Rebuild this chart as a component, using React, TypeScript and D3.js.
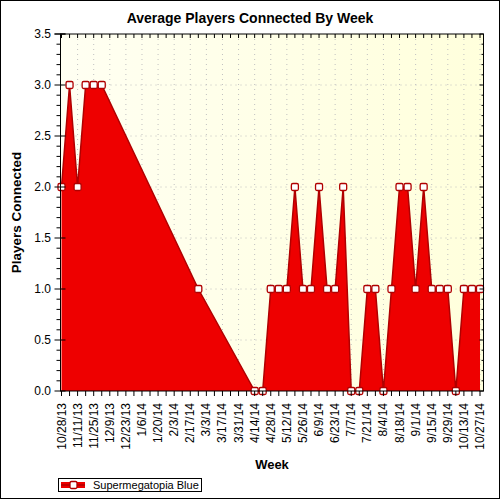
import React from "react";
import * as d3 from "d3";

const weeks = ["10/28/13","11/4/13","11/11/13","11/18/13","11/25/13","12/2/13","2/24/14","4/14/14","4/21/14","4/28/14","5/5/14","5/12/14","5/19/14","5/26/14","6/2/14","6/9/14","6/16/14","6/23/14","6/30/14","7/7/14","7/14/14","7/21/14","7/28/14","8/4/14","8/11/14","8/18/14","8/25/14","9/1/14","9/8/14","9/15/14","9/22/14","9/29/14","10/6/14","10/13/14","10/20/14","10/27/14"];
const players = [2,3,2,3,3,3,1,0,0,1,1,1,2,1,1,2,1,1,2,0,0,1,1,0,1,2,2,1,2,1,1,1,0,1,1,1];
const seriesName = "Supermegatopia Blue";
const yTicks = [0,0.5,1,1.5,2,2.5,3,3.5];

const parse = d3.timeParse("%m/%d/%y");
const fmt = (d: Date) => `${d.getMonth() + 1}/${d.getDate()}/${String(d.getFullYear()).slice(2)}`;

export default function App() {
  const font = "'Liberation Sans', Arial, sans-serif";
  const L = 60.5, R = 483.5, T = 34, B = 391;
  const start = parse("10/28/13")!;
  const end = parse("10/27/14")!;
  const x = d3.scaleTime().domain([start, end]).range([61.5, 480]);
  const y = d3.scaleLinear().domain([0, 3.5]).range([B, T]);
  const data = weeks.map((w, i) => ({ d: parse(w)!, v: players[i] }));
  const allWeeks: Date[] = [];
  for (let i = 0; i <= 52; i++) allWeeks.push(d3.timeDay.offset(start, i * 7));
  const labelWeeks = allWeeks.filter((_, i) => i % 2 === 0);
  const minorY = d3.range(0, 36).map(i => i / 10);

  const area = d3.area<{ d: Date; v: number }>().x(p => x(p.d)).y0(y(0)).y1(p => y(p.v));
  const line = d3.line<{ d: Date; v: number }>().x(p => x(p.d)).y(p => y(p.v));

  return (
    <svg width={500} height={500} style={{ position: "absolute", left: 0, top: 0 }} fontFamily={font}>
      <defs>
        <linearGradient id="bg" x1="0" y1="0" x2="1" y2="0">
          <stop offset="0" stopColor="#fffff2" />
          <stop offset="1" stopColor="#ffffdc" />
        </linearGradient>
      </defs>
      <rect x={0} y={0} width={500} height={500} fill="#fff" />
      <rect x={0.5} y={0.5} width={499} height={498} fill="none" stroke="#000" />
      <text x={250} y={23} textAnchor="middle" fontSize={14} fontWeight="bold">Average Players Connected By Week</text>
      <rect x={L} y={T} width={R - L} height={B - T} fill="url(#bg)" />
      {labelWeeks.slice(1).map((d, i) => (
        <line key={"gx" + i} x1={x(d)} x2={x(d)} y1={T} y2={B} stroke="#c0c0c0" strokeDasharray="1,4" />
      ))}
      {yTicks.slice(1, -1).map((v, i) => (
        <line key={"gy" + i} x1={L} x2={R} y1={y(v)} y2={y(v)} stroke="#c0c0c0" strokeDasharray="1,4" />
      ))}
      <path d={area(data)!} fill="#ee0000" />
      <path d={line(data)!} fill="none" stroke="#b00000" strokeWidth={1.5} />
      {data.map((p, i) => (
        <rect key={"m" + i} x={x(p.d) - 3.5} y={y(p.v) - 3.5} width={7} height={7} rx={1.5} fill="#fff" stroke="#b00000" strokeWidth={1.3} />
      ))}
      <rect x={L} y={T} width={R - L} height={B - T} fill="none" stroke="#000" />
      {allWeeks.map((d, i) => (
        <g key={"tx" + i}>
          <line x1={x(d)} x2={x(d)} y1={T} y2={T + 4} stroke="#000" />
          <line x1={x(d)} x2={x(d)} y1={B} y2={B + 5} stroke="#000" />
        </g>
      ))}
      {minorY.map((v, i) => {
        const major = i % 5 === 0;
        return (
          <g key={"ty" + i}>
            <line x1={major ? L - 6 : L - 4} x2={major ? L + 5 : L} y1={y(v)} y2={y(v)} stroke="#000" />
            <line x1={major ? R - 4 : R - 2} x2={R} y1={y(v)} y2={y(v)} stroke="#000" />
          </g>
        );
      })}
      <line x1={L - 6} x2={L + 5} y1={T} y2={T} stroke="#000" />
      {yTicks.map((v, i) => (
        <text key={"yl" + i} x={51} y={y(v) + 4} textAnchor="end" fontSize={12} fill="#000">{v.toFixed(1)}</text>
      ))}
      {labelWeeks.map((d, i) => (
        <text key={"xl" + i} transform={`translate(${x(d) + 4},${403}) rotate(-90)`} textAnchor="end" fontSize={12} fill="#000">{fmt(d)}</text>
      ))}
      <text transform={`translate(21,${(T + B) / 2}) rotate(-90)`} textAnchor="middle" fontSize={13.5} fontWeight="bold">Players Connected</text>
      <text x={(L + R) / 2} y={469} textAnchor="middle" fontSize={13} fontWeight="bold">Week</text>
      <rect x={58.5} y={478.5} width={143} height={13} fill="#fff" stroke="#000" />
      <rect x={61} y={482} width={24} height={6} fill="#ee0000" />
      <line x1={61} x2={85} y1={485} y2={485} stroke="#b00000" strokeWidth={1.5} />
      <rect x={70} y={481.5} width={7} height={7} rx={1.5} fill="#fff" stroke="#b00000" strokeWidth={1.3} />
      <text x={93} y={489} fontSize={11} fill="#000">{seriesName}</text>
    </svg>
  );
}
